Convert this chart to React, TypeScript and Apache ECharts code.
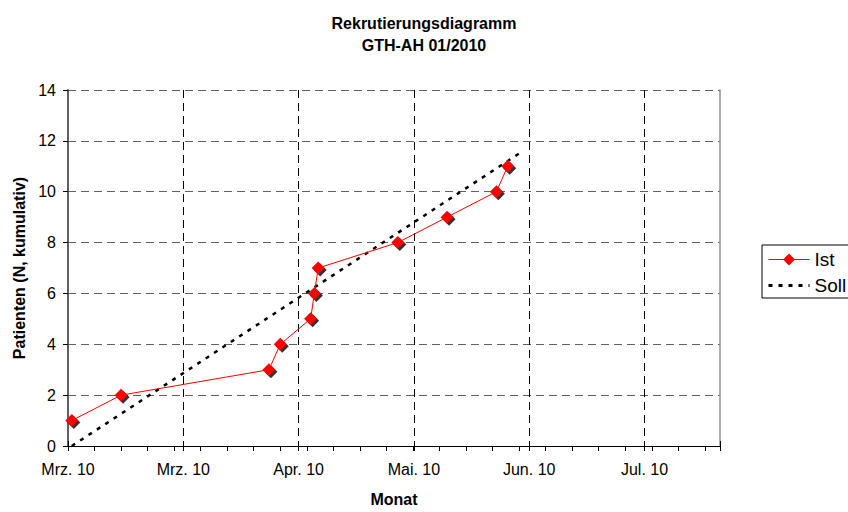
import React, { useEffect, useRef } from "react";
import * as echarts from "echarts";

const titleText = "Rekrutierungsdiagramm\nGTH-AH 01/2010";
const xAxisName = "Monat";
const yAxisName = "Patienten (N, kumulativ)";
const monthNames = ["Jan", "Feb", "Mrz", "Apr", "Mai", "Jun", "Jul", "Aug", "Sep", "Okt", "Nov", "Dez"];

// days since 1 March 2010
const istDays = [1, 14, 53, 56, 64, 65, 66, 87, 100, 113, 116];
const istValues = [1, 2, 3, 4, 5, 6, 7, 8, 9, 10, 11];
const sollDays = [1, 119];
const sollValues = [0, 11.5];

const xMin = 0;
const xMax = 172;
const majorInterval = 365 / 12;
const minorInterval = 7;
const yMin = 0;
const yMax = 14;
const yInterval = 2;

const FONT = "'Liberation Sans', Arial, sans-serif";

function dateLabel(v: number): string {
  const d = new Date(2010, 2, 1 + Math.floor(v + 1e-6));
  return monthNames[d.getMonth()] + ". " + String(d.getFullYear()).slice(2);
}

export default function App() {
  const ref = useRef<HTMLDivElement>(null);
  useEffect(() => {
    if (!ref.current) return;
    const chart = echarts.init(ref.current, null, { renderer: "svg" });
    const ist = istDays.map((d, i) => [d, istValues[i]]);
    const soll = sollDays.map((d, i) => [d, sollValues[i]]);
    chart.setOption({
      animation: false,
      backgroundColor: "#fff",
      textStyle: { fontFamily: FONT },
      title: {
        text: titleText,
        left: "center",
        top: 7,
        textStyle: { fontFamily: FONT, fontSize: 16, fontWeight: "bold", color: "#000", lineHeight: 22 },
      },
      grid: { left: 68, top: 90, width: 652, height: 362, containLabel: false },
      legend: {
        data: [
          { name: "Ist", lineStyle: { width: 1 } },
          { name: "Soll", lineStyle: { width: 3 }, itemStyle: { opacity: 0 } },
        ],
        orient: "vertical",
        left: 762,
        top: 245,
        itemWidth: 41,
        itemHeight: 15,
        itemGap: 7,
        padding: [5, 12, 3, 5],
        borderColor: "#000",
        borderWidth: 1,
        selectedMode: false,
        textStyle: { fontFamily: FONT, fontSize: 19, lineHeight: 19, color: "#000" },
      },
      xAxis: [
        {
          type: "value",
          min: xMin,
          max: xMax,
          interval: majorInterval,
          position: "bottom",
          name: xAxisName,
          nameLocation: "middle",
          nameGap: 45,
          nameTextStyle: { fontFamily: FONT, fontSize: 16, fontWeight: "bold", color: "#000" },
          axisLine: { show: true, onZero: false, lineStyle: { color: "#000", width: 1 } },
          axisTick: { show: true, length: 5, lineStyle: { color: "#000" } },
          axisLabel: {
            fontFamily: FONT,
            fontSize: 16,
            color: "#000",
            margin: 15,
            showMaxLabel: false,
            formatter: (v: number) => dateLabel(v),
          },
          splitLine: {
            show: true,
            showMinLine: false,
            showMaxLine: false,
            lineStyle: { color: "#000", width: 1, type: [8, 5] },
          },
        },
        {
          type: "value",
          min: xMin,
          max: xMax,
          interval: majorInterval,
          position: "bottom",
          axisLine: { show: false, onZero: false },
          axisTick: { show: true, inside: true, length: 5, lineStyle: { color: "#000" } },
          axisLabel: { show: false },
          splitLine: { show: false },
        },
        {
          type: "value",
          min: xMin,
          max: xMax,
          interval: minorInterval,
          position: "bottom",
          axisLine: { show: false, onZero: false },
          axisTick: { show: true, length: 5, lineStyle: { color: "#000" } },
          axisLabel: { show: false },
          splitLine: { show: false },
        },
      ],
      yAxis: [
        {
          type: "value",
          min: yMin,
          max: yMax,
          interval: yInterval,
          position: "left",
          name: yAxisName,
          nameLocation: "middle",
          nameGap: 37,
          nameTextStyle: { fontFamily: FONT, fontSize: 16, fontWeight: "bold", color: "#000" },
          axisLine: { show: true, onZero: false, lineStyle: { color: "#606060", width: 2 } },
          axisTick: { show: true, length: 5, lineStyle: { color: "#000" } },
          axisLabel: { fontFamily: FONT, fontSize: 16, color: "#000", margin: 12 },
          splitLine: {
            show: true,
            showMinLine: false,
            lineStyle: { color: "#606060", width: 1, type: [8, 5] },
          },
        },
        {
          type: "value",
          min: yMin,
          max: yMax,
          interval: yInterval,
          position: "right",
          axisLine: { show: true, onZero: false, lineStyle: { color: "#909090", width: 1.5 } },
          axisTick: { show: false },
          axisLabel: { show: false },
          splitLine: { show: false },
        },
      ],
      series: [
        {
          name: "Soll",
          type: "line",
          data: soll,
          symbol: "none",
          showSymbol: false,
          itemStyle: { color: "#000" },
          lineStyle: { color: "#000", width: 2.5, type: [4, 6] },
          z: 2,
        },
        {
          name: "IstShadow",
          type: "scatter",
          data: ist,
          symbol: "diamond",
          symbolSize: 13,
          symbolOffset: [2, 2],
          itemStyle: { color: "#000" },
          silent: true,
          z: 3,
        },
        {
          name: "Ist",
          type: "line",
          data: ist,
          symbol: "diamond",
          symbolSize: 13,
          showSymbol: true,
          itemStyle: { color: "#ff0000" },
          lineStyle: { color: "#ff0000", width: 1 },
          z: 4,
        },
      ],
    });
    return () => chart.dispose();
  }, []);
  return (
    <div
      ref={ref}
      style={{ position: "absolute", left: 0, top: 0, width: 848, height: 512 }}
    />
  );
}
